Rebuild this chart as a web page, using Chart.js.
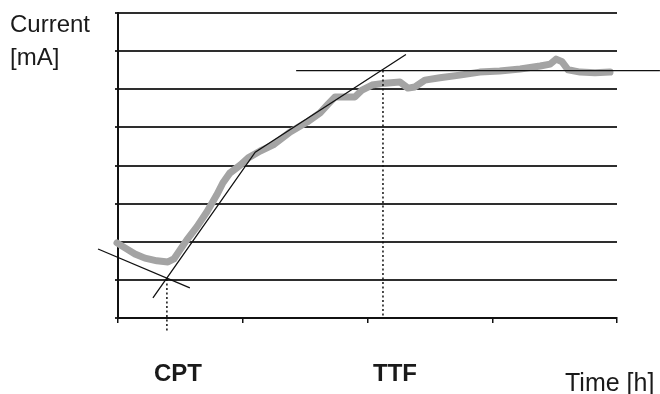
<!DOCTYPE html>
<html>
<head>
<meta charset="utf-8">
<script src="https://cdn.jsdelivr.net/npm/chart.js@4.4.1/dist/chart.umd.min.js"></script>
<style>
  html, body { margin: 0; padding: 0; background: #ffffff; }
  #wrap { width: 660px; height: 394px; position: relative; }
</style>
</head>
<body>
<div id="wrap"><canvas id="c"></canvas></div>
<script>
// ---- Data ----
const timeValues = [-0.2, 1.4, 3.4, 5.4, 7.8, 10.0, 11.2, 12.4, 13.8, 15.8, 17.8, 19.8, 21.0, 22.4, 24.5, 26.1, 28.5, 31.1, 34.5, 37.9, 40.5, 42.1, 43.5, 45.5, 47.5, 48.9, 50.9, 53.5, 56.5, 58.1, 59.5, 61.5, 64.5, 68.5, 72.5, 76.5, 80.6, 84.6, 86.6, 87.8, 89.0, 90.2, 92.6, 95.6, 98.6];
const currentValues = [19.7, 18.4, 16.8, 15.7, 15.0, 14.7, 15.5, 17.8, 20.5, 23.9, 27.8, 32.3, 35.4, 38.0, 40.1, 42.0, 43.8, 45.4, 48.8, 51.4, 53.8, 56.1, 58.0, 58.0, 58.0, 59.8, 61.1, 61.6, 61.9, 60.3, 60.6, 62.4, 63.0, 63.7, 64.5, 64.8, 65.3, 66.1, 66.6, 67.9, 67.2, 65.1, 64.5, 64.3, 64.5];

// tangent lines
const baseTangentX = [-4.0, 14.4];
const baseTangentY = [18.1, 7.9];
const riseTangentX = [7.0, 27.5, 57.7];
const riseTangentY = [5.3, 43.5, 69.1];
const plateauTangentX = [35.7, 108.6];
const plateauTangentY = [64.9, 64.9];

// marker lines
const cptX = [9.8, 9.8];
const cptY = [10.2, -3.7];
const ttfX = [53.1, 53.1];
const ttfY = [64.9, 0];

// axis ticks
const xTickStep = 25;
const yTickStep = 10;

// labels
const yTitleLines = ['Current', '[mA]'];
const xTitle = 'Time [h]';
const markerLabels = ['CPT', 'TTF'];

const pts = (xs, ys) => xs.map((x, i) => ({ x: x, y: ys[i] }));

const textPlugin = {
  id: 'texts',
  afterDraw(chart) {
    const ctx = chart.ctx;
    ctx.save();
    ctx.fillStyle = '#1a1a1a';
    ctx.textBaseline = 'alphabetic';
    ctx.textAlign = 'left';
    ctx.font = '24px "Liberation Sans", Arial, sans-serif';
    ctx.fillText(yTitleLines[0], 10, 32);
    ctx.fillText(yTitleLines[1], 10, 65);
    ctx.font = '25px "Liberation Sans", Arial, sans-serif';
    ctx.fillText(xTitle, 565, 391);
    ctx.font = 'bold 24px "Liberation Sans", Arial, sans-serif';
    const xs = chart.scales.x;
    ctx.fillText(markerLabels[0], xs.getPixelForValue(cptX[0]) - 13, 381);
    ctx.fillText(markerLabels[1], xs.getPixelForValue(ttfX[0]) - 10, 381);
    ctx.restore();
  }
};

new Chart(document.getElementById('c'), {
  type: 'scatter',
  data: {
    datasets: [
      { data: pts(baseTangentX, baseTangentY), showLine: true, borderColor: '#111', borderWidth: 1.3, pointRadius: 0, clip: false, order: 1 },
      { data: pts(riseTangentX, riseTangentY), showLine: true, borderColor: '#111', borderWidth: 1.3, pointRadius: 0, clip: false, order: 1 },
      { data: pts(plateauTangentX, plateauTangentY), showLine: true, borderColor: '#111', borderWidth: 1.3, pointRadius: 0, clip: false, order: 1 },
      { data: pts(cptX, cptY), showLine: true, borderColor: '#111', borderWidth: 1.5, borderDash: [2, 2.5], pointRadius: 0, clip: false, order: 1 },
      { data: pts(ttfX, ttfY), showLine: true, borderColor: '#111', borderWidth: 1.5, borderDash: [2, 2.5], pointRadius: 0, clip: false, order: 1 },
      { data: pts(timeValues, currentValues), showLine: true, borderColor: '#a4a4a4', borderWidth: 7, borderJoinStyle: 'round', borderCapStyle: 'round', pointRadius: 0, clip: false, order: 2 }
    ]
  },
  options: {
    responsive: true,
    maintainAspectRatio: false,
    devicePixelRatio: 1,
    animation: false,
    layout: { padding: { left: 115, top: 13, right: 43, bottom: 71 } },
    plugins: { legend: { display: false }, tooltip: { enabled: false } },
    scales: {
      x: {
        type: 'linear', min: 0, max: 100,
        ticks: { display: false, stepSize: xTickStep },
        grid: { drawOnChartArea: false, drawTicks: true, tickLength: 5, color: '#111', lineWidth: 1.5 },
        border: { display: true, color: '#111', width: 2 }
      },
      y: {
        type: 'linear', min: 0, max: 80,
        ticks: { display: false, stepSize: yTickStep },
        grid: { drawTicks: true, tickLength: 3, color: '#2e2e2e', lineWidth: 2 },
        border: { display: true, color: '#111', width: 2 }
      }
    }
  },
  plugins: [textPlugin]
});
</script>
</body>
</html>
